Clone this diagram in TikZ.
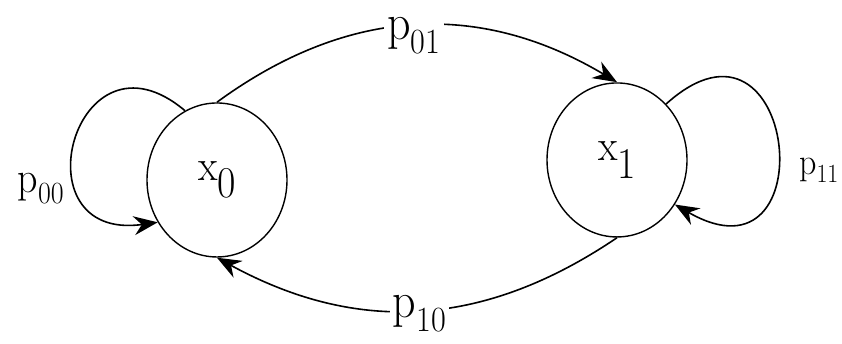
\documentclass[tikz,border=0pt]{standalone}
\usetikzlibrary{arrows.meta}

\newcommand{\statename}[2]{#1\raisebox{-.4em}{#2}}

\begin{document}
\begin{tikzpicture}[
  x=1pt,y=1pt,yscale=1.1,
  state/.style={draw,circle,minimum size=140pt,inner sep=0pt,line width=1.4pt,
                transform shape,font=\fontsize{40}{44}\selectfont},
  lbl/.style={transform shape,inner sep=3pt,font=\fontsize{46}{52}\selectfont},
  arrow/.style={-{Stealth[length=24pt,width=19pt,inset=8pt]},line width=1.6pt}
]
\useasboundingbox (0,0) rectangle (842,311.82);
\node[state] (x0) at (217,148.2) {\statename{x}{0}};
\node[state] (x1) at (617,166.4) {\statename{x}{1}};
\node[lbl,font=\fontsize{40}{44}\selectfont] (p00) at (41,140) {p\textsubscript{00}};
\node[lbl,font=\fontsize{34}{38}\selectfont] (p11) at (819,157.3) {p\textsubscript{11}};
\draw[arrow] (x0.north) to[bend left=31]
  node[lbl,fill=white,midway,yshift=-9pt] (p01) {p\textsubscript{01}} (x1.north);
\draw[arrow] (x1.south) to[bend left=29]
  node[lbl,fill=white,midway,yshift=-3pt] (p10) {p\textsubscript{10}} (x0.south);
\draw[arrow] (x0.117) .. controls +(-110,84.5) and +(-143,-18.2) .. (x0.213);
\draw[arrow] (x1.46.5) .. controls +(131.3,107.5) and +(153,-80.4) .. (x1.325);
\end{tikzpicture}
\end{document}
